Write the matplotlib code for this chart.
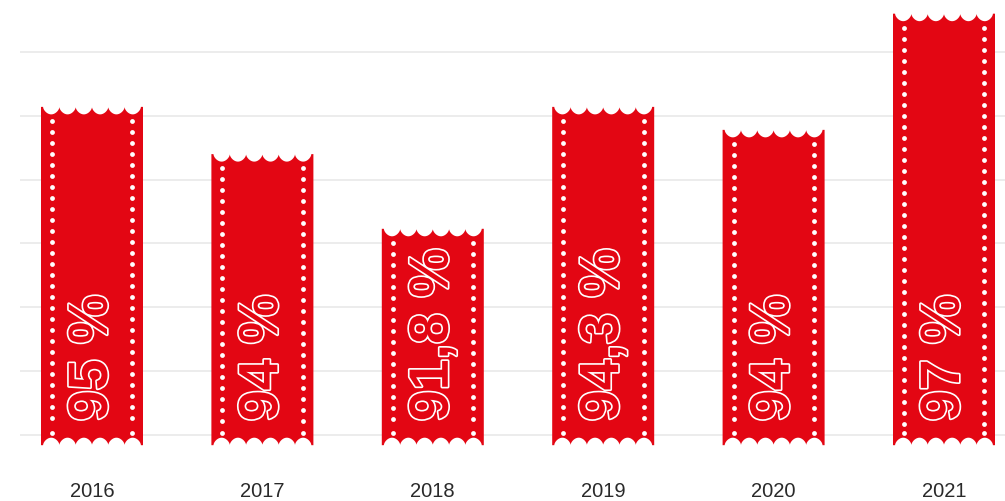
import matplotlib
matplotlib.use('Agg')
import matplotlib.pyplot as plt
import matplotlib.patheffects as pe
from matplotlib.path import Path
from matplotlib.patches import PathPatch
import numpy as np

# data
years = ['2016', '2017', '2018', '2019', '2020', '2021']
labels = ['95 %', '94 %', '91,8 %', '94,3 %', '94 %', '97 %']
heights = [5.14, 4.40, 3.23, 5.14, 4.78, 6.60]   # bar tops in grid units
base = -0.16                                      # bar bottom (below first gridline)

red = '#e30613'
W, H = 1005, 502

fig = plt.figure(figsize=(W / 100, H / 100), dpi=100)
ax = fig.add_axes([20 / W, 32 / H, 985 / W, 470 / H])
ax.set_xlim(-0.4225, 5.358)
ax.set_ylim(-0.533, 6.83)

# pixel -> data scale
sx = (5.358 + 0.4225) / 985
sy = (6.83 + 0.533) / 470

# grid
for g in range(7):
    ax.axhline(g, color='#e9e9e9', lw=1.2, zorder=0)

bar_px = 102
bar_w = bar_px * sx
depth = 7.5
pitch = 16.3
n_sc = 6


def wave(u):
    # u: px from left edge of bar -> cut depth in px (U-shaped scallops)
    margin = (bar_px - n_sc * pitch) / 2
    v = np.clip(u - margin, 0, n_sc * pitch)
    return depth * np.abs(np.sin(np.pi * v / pitch)) ** 0.55


def ribbon(xc, top, bottom):
    xl = xc - bar_w / 2
    u = np.linspace(0, bar_px, 600)
    d = wave(u)
    top_pts = np.column_stack([xl + u * sx, top - d * sy])
    bot_pts = np.column_stack([xl + u[::-1] * sx, bottom + d[::-1] * sy])
    pts = np.vstack([top_pts, bot_pts, top_pts[:1]])
    return Path(pts, closed=True)


for i, (yr, lab, h) in enumerate(zip(years, labels, heights)):
    ax.add_patch(PathPatch(ribbon(i, h, base), facecolor=red, edgecolor='none', zorder=2))

    # perforation dots
    span_px = (h - base) / sy
    ys = []
    p = 14
    while p < span_px - 12 - 5:
        ys.append(h - p * sy)
        p += 11
    ys.append(base + 12 * sy)
    for dx in (-bar_w / 2 + 11 * sx, bar_w / 2 - 10.5 * sx):
        ax.scatter([i + dx] * len(ys), ys, s=12, color='white', lw=0, zorder=3)

    ax.text(i + 1 * sx, base + 24 * sy, lab, rotation=90, ha='center', va='bottom',
            fontsize=40, fontweight='bold', family='Liberation Sans', color=red,
            path_effects=[pe.Stroke(linewidth=2.4, foreground='white'), pe.Normal()],
            zorder=4)

ax.set_xticks(range(len(years)))
ax.set_xticklabels(years, fontsize=14.5, color='#2a2a2a', family='Liberation Sans')
ax.tick_params(axis='x', length=0, pad=9)
ax.set_yticks([])
for s in ax.spines.values():
    s.set_visible(False)

fig.savefig('out.png', dpi=100)
